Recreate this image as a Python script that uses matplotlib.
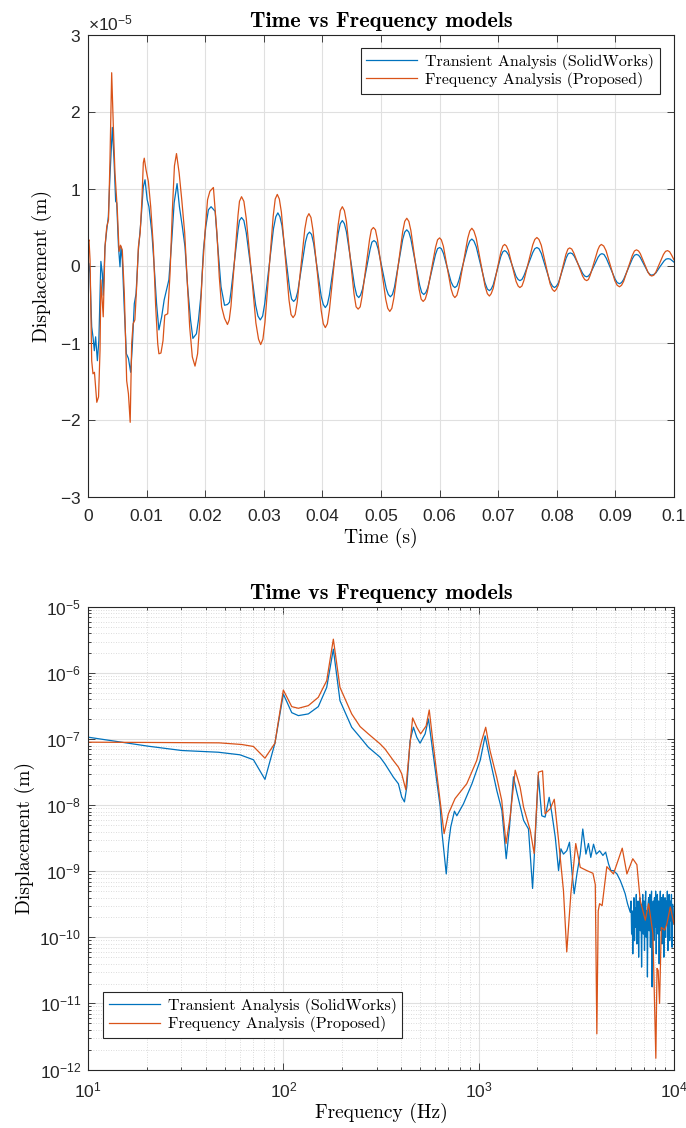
import numpy as np
import matplotlib
matplotlib.use("Agg")
import matplotlib.pyplot as plt
from matplotlib.ticker import ScalarFormatter, LogLocator, MultipleLocator, NullFormatter

# ---------------- data: time domain (t in ms, displacement in 1e-5 m) ----------------
t_transient_ms = [0.0, 0.17, 0.34, 0.63, 0.85, 1.08, 1.3, 1.6, 1.85, 2.05, 2.2, 2.45, 2.6, 2.9, 3.2, 3.47,
                  3.75, 4.15, 4.44, 4.72, 4.9, 5.2, 5.46, 5.63, 5.86, 6.2, 6.55, 6.9, 7.28, 7.56, 7.9, 8.2,
                  8.6, 9.05, 9.44, 9.73, 10.1, 10.4, 10.9, 11.3, 11.7, 12.1, 12.57, 13.0, 13.4, 13.8, 14.3,
                  14.7, 15.2, 15.6, 16.1, 16.55, 17.0, 17.5, 17.9, 18.5, 18.85, 19.3, 19.7, 20.1, 20.55,
                  21.0, 21.7, 22.1, 22.7, 23.3,
                  23.8, 24.4, 25.0, 25.6, 26.2, 27.0, 27.8, 28.6, 29.4, 30.15, 30.9, 31.65, 32.4, 33.1,
                  33.75, 34.4, 35.1, 35.8, 36.45, 37.1, 37.8, 38.5, 39.15, 39.8, 40.5, 41.2, 41.95, 42.7,
                  43.4, 44.1, 44.8, 45.5, 46.2, 46.85, 47.5, 48.15, 48.8, 49.5, 50.2, 50.9, 51.6, 52.3,
                  53.0, 53.7, 54.4, 55.1, 55.85, 56.6, 57.3, 58.0, 58.65, 59.3, 60.0, 60.65, 61.3, 61.95,
                  62.6, 63.3, 64.05, 64.8, 65.5, 66.25, 67.0, 67.75, 68.5, 69.15, 69.8, 70.45, 71.1, 71.75,
                  72.4, 73.05, 73.7, 74.4, 75.15, 75.9, 76.6, 77.35, 78.1, 78.85, 79.6, 80.3, 80.95, 81.6,
                  82.3, 83.0, 83.7, 84.4, 85.1, 85.75, 86.4, 87.05, 87.7, 88.45, 89.2, 89.95, 90.7, 91.4,
                  92.15, 92.9, 93.6, 94.25, 94.9, 95.55, 96.2, 96.9, 97.6, 98.3, 99.0, 99.6, 100.0]
d_transient_e5 = [0.05, 0.03, -0.10, -0.79, -0.92, -1.10, -0.92, -1.23, -0.97, -0.36, 0.06, -0.10, -0.38, 0.25, 0.47, 0.64,
                  1.17, 1.80, 1.38, 0.84, 0.82, 0.25, -0.01, 0.25, 0.08, -0.57, -1.14, -1.20, -1.38, -1.05, -0.49, -0.36,
                  0.21, 0.60, 1.03, 1.12, 0.86, 0.77, 0.43, -0.01, -0.49, -0.83, -0.66, -0.44, -0.31, -0.18, 0.34,
                  0.82, 1.07, 0.77, 0.51, 0.25, -0.27, -0.70, -0.94, -0.88, -0.70, -0.36, 0.21, 0.51, 0.73,
                  0.77, 0.71, 0.30, -0.27, -0.51,
                  -0.50, -0.335, 0.065, 0.465, 0.63, 0.435, -0.035, -0.505, -0.70, -0.495, -0.005, 0.485, 0.69, 0.525,
                  0.115, -0.295, -0.46, -0.33, -0.01, 0.31, 0.44, 0.295, -0.05, -0.395, -0.54, -0.375, 0.025, 0.425,
                  0.59, 0.445, 0.09, -0.265, -0.41, -0.30, -0.04, 0.22, 0.33, 0.225, -0.035, -0.295, -0.40, -0.275,
                  0.035, 0.345, 0.47, 0.35, 0.05, -0.25, -0.37, -0.28, -0.065, 0.15, 0.24, 0.165, -0.02, -0.205,
                  -0.28, -0.185, 0.035, 0.255, 0.35, 0.25, 0.015, -0.22, -0.32, -0.245, -0.06, 0.125, 0.20, 0.145,
                  0.005, -0.135, -0.19, -0.125, 0.025, 0.175, 0.24, 0.165, -0.02, -0.205, -0.28, -0.215, -0.055, 0.105,
                  0.17, 0.125, 0.015, -0.095, -0.14, -0.095, 0.01, 0.115, 0.16, 0.10, -0.035, -0.17, -0.23, -0.175,
                  -0.04, 0.095, 0.15, 0.11, 0.015, -0.08, -0.12, -0.09, -0.01, 0.065, 0.095, 0.075, 0.05]
# extra readings near the crests / troughs of the transient curve
t_transient_crest_ms = [24.15, 25.85, 26.6, 29.0, 29.8, 32.05, 32.75, 34.75, 35.45, 37.45, 38.15, 40.15, 40.85,
                        43.05, 43.75, 45.85, 46.5, 48.45, 49.15, 51.25, 51.95, 54.05, 54.75, 56.95, 57.65,
                        59.65, 60.3, 62.3, 62.95, 65.15, 65.85, 68.15, 68.8, 70.8, 71.4, 73.4, 74.05, 76.25,
                        76.95, 79.25, 79.95, 81.95, 82.65, 84.75, 85.4, 87.4, 88.05, 90.3, 91.05, 93.25, 93.95,
                        95.9, 96.55, 98.65, 99.35]
d_transient_crest_e5 = [-0.47, 0.59, 0.59, -0.65, -0.65, 0.64, 0.64, -0.43, -0.43, 0.41, 0.41, -0.50, -0.50,
                        0.55, 0.55, -0.38, -0.38, 0.31, 0.31, -0.37, -0.37, 0.44, 0.44, -0.345, -0.345,
                        0.225, 0.225, -0.26, -0.26, 0.325, 0.325, -0.30, -0.30, 0.185, 0.185, -0.175, -0.175, 0.225,
                        0.225, -0.26, -0.26, 0.16, 0.16, -0.13, -0.13, 0.15, 0.15, -0.215, -0.215, 0.14, 0.14,
                        -0.11, -0.11, 0.09, 0.09]

t_frequency_ms = [0.0, 0.17, 0.35, 0.63, 0.85, 1.1, 1.5, 1.8, 2.05, 2.2, 2.6, 2.9, 3.2, 3.5, 3.75, 4.04,
                  4.32, 4.6, 5.0, 5.3, 5.55, 5.85, 6.2, 6.6, 6.9, 7.2, 7.45, 7.7, 8.0, 8.3, 8.6, 8.9,
                  9.2, 9.44, 9.6, 9.9, 10.3, 10.7, 11.15, 11.55, 11.9, 12.1, 12.45, 12.8, 13.1, 13.6, 14.0,
                  14.4, 14.75, 15.1, 15.55, 16.0, 16.5, 16.9, 17.35, 17.8, 18.26, 18.7, 19.1, 19.5, 20.0,
                  20.4, 20.8, 21.4, 22.0, 22.4, 22.8, 23.3,
                  23.8, 24.4, 25.0, 25.6, 26.2, 27.0, 27.85, 28.65, 29.47, 30.2, 30.9, 31.6, 32.3, 33.0,
                  33.65, 34.3, 35.0, 35.7, 36.35, 37.0, 37.7, 38.4, 39.1, 39.8, 40.5, 41.2, 41.95, 42.7,
                  43.4, 44.1, 44.75, 45.4, 46.1, 46.75, 47.4, 48.05, 48.7, 49.4, 50.1, 50.8, 51.5, 52.2,
                  52.95, 53.7, 54.4, 55.1, 55.8, 56.5, 57.2, 57.9, 58.6, 59.3, 60.0, 60.65, 61.3, 61.95,
                  62.6, 63.3, 64.05, 64.8, 65.5, 66.25, 67.0, 67.75, 68.5, 69.15, 69.8, 70.45, 71.1, 71.75,
                  72.4, 73.05, 73.7, 74.4, 75.15, 75.9, 76.6, 77.35, 78.1, 78.85, 79.6, 80.25, 80.9, 81.55,
                  82.2, 82.9, 83.65, 84.4, 85.1, 85.7, 86.35, 87.0, 87.6, 88.4, 89.15, 89.9, 90.7, 91.4,
                  92.15, 92.9, 93.6, 94.25, 94.9, 95.55, 96.2, 96.9, 97.55, 98.2, 98.9, 99.6, 100.0]
d_frequency_e5 = [0.30, 0.34, 0.08, -1.23, -1.40, -1.38, -1.77, -1.70, -1.10, -0.18, -0.66, 0.25, 0.51, 0.60, 1.38, 2.51,
                  1.82, 1.21, 0.73, 0.19, 0.27, 0.21, -0.36, -1.49, -1.66, -2.03, -1.01, -0.75, -0.70, -0.27, 0.25, 0.43,
                  0.86, 1.34, 1.40, 1.25, 1.10, 0.77, 0.25, -0.53, -1.01, -1.14, -1.13, -0.97, -0.64, -0.62, -0.10,
                  0.73, 1.30, 1.46, 1.21, 0.86, 0.43, -0.14, -0.79, -1.18, -1.30, -1.14, -0.70, -0.10, 0.47,
                  0.86, 0.97, 1.02, 0.43, -0.14, -0.53, -0.68,
                  -0.76, -0.52, 0.07, 0.66, 0.90, 0.62, -0.06, -0.74, -1.02, -0.73, -0.045, 0.645, 0.93, 0.70,
                  0.13, -0.44, -0.67, -0.47, 0.0, 0.48, 0.68, 0.46, -0.06, -0.58, -0.80, -0.57, -0.015, 0.54,
                  0.77, 0.575, 0.105, -0.365, -0.56, -0.405, -0.03, 0.345, 0.50, 0.34, -0.045, -0.43, -0.59, -0.415,
                  0.015, 0.445, 0.62, 0.46, 0.08, -0.30, -0.46, -0.34, -0.05, 0.24, 0.365, 0.255, -0.02, -0.295,
                  -0.41, -0.28, 0.04, 0.36, 0.49, 0.36, 0.05, -0.26, -0.39, -0.29, -0.055, 0.18, 0.28, 0.20,
                  0.0, -0.20, -0.28, -0.185, 0.045, 0.275, 0.37, 0.27, 0.02, -0.23, -0.33, -0.25, -0.05, 0.15,
                  0.235, 0.17, 0.02, -0.13, -0.19, -0.12, 0.045, 0.21, 0.28, 0.20, 0.005, -0.19, -0.27, -0.20,
                  -0.03, 0.14, 0.21, 0.16, 0.04, -0.08, -0.13, -0.08, 0.035, 0.15, 0.20, 0.14, 0.08]
# extra readings near the crests / troughs of the frequency-model curve
t_frequency_crest_ms = [24.1, 25.85, 26.6, 29.1, 29.85, 31.95, 32.65, 34.65, 35.35, 37.35, 38.05, 40.15, 40.85,
                        43.05, 43.75, 45.75, 46.45, 48.35, 49.05, 51.15, 51.85, 54.05, 54.75, 56.85, 57.55,
                        59.65, 60.3, 62.3, 62.95, 65.15, 65.85, 68.15, 68.8, 70.8, 71.4, 73.4, 74.05, 76.25,
                        76.95, 79.25, 79.9, 81.9, 82.55, 84.75, 85.4, 87.3, 88.0, 90.3, 91.05, 93.25, 93.95,
                        95.9, 96.55, 98.55, 99.25]
d_frequency_crest_e5 = [-0.70, 0.84, 0.84, -0.95, -0.95, 0.87, 0.87, -0.63, -0.63, 0.63, 0.63, -0.75, -0.75,
                        0.72, 0.72, -0.53, -0.53, 0.47, 0.47, -0.55, -0.55, 0.58, 0.58, -0.43, -0.43,
                        0.34, 0.34, -0.38, -0.38, 0.455, 0.455, -0.36, -0.36, 0.26, 0.26, -0.26, -0.26, 0.345,
                        0.345, -0.305, -0.305, 0.22, 0.22, -0.175, -0.175, 0.26, 0.26, -0.25, -0.25, 0.195, 0.195,
                        -0.12, -0.12, 0.19, 0.185]

# ---------------- data: frequency domain (log10 Hz, log10 m) ----------------
logf_transient = [1.0, 1.309, 1.48, 1.667, 1.778, 1.847, 1.906, 1.957, 2.0, 2.043, 2.077, 2.128, 2.179, 2.222,
                  2.256, 2.29, 2.35, 2.393, 2.435, 2.495, 2.52, 2.563, 2.589, 2.606, 2.620, 2.632, 2.649, 2.666,
                  2.683, 2.70, 2.726, 2.743, 2.76, 2.803, 2.811, 2.834, 2.846, 2.857, 2.876, 2.888, 2.922, 2.965,
                  3.008, 3.033, 3.059, 3.093, 3.119, 3.141, 3.158, 3.178, 3.195, 3.23, 3.255, 3.276, 3.289, 3.305,
                  3.323, 3.34, 3.361, 3.375, 3.392, 3.409, 3.421, 3.434, 3.451, 3.465, 3.477, 3.489, 3.503, 3.52,
                  3.533, 3.549, 3.562, 3.574, 3.588, 3.602, 3.619, 3.636, 3.65, 3.665, 3.677, 3.69, 3.708, 3.725,
                  3.738, 3.75, 3.762, 3.776,
                  3.780, 3.783, 3.786, 3.789, 3.792, 3.795, 3.798, 3.801, 3.804, 3.807, 3.810, 3.813, 3.816, 3.819,
                  3.822, 3.825, 3.828, 3.831, 3.834, 3.837, 3.840, 3.843, 3.846, 3.849, 3.852, 3.855, 3.858, 3.861,
                  3.864, 3.867, 3.870, 3.873, 3.876, 3.879, 3.882, 3.885, 3.888, 3.891, 3.894, 3.897, 3.900, 3.903,
                  3.906, 3.909, 3.912, 3.915, 3.918, 3.921, 3.924, 3.927, 3.930, 3.933, 3.936, 3.939, 3.942, 3.945,
                  3.948, 3.951, 3.954, 3.957, 3.960, 3.963, 3.966, 3.969, 3.972, 3.975, 3.978, 3.981, 3.984, 3.987,
                  3.990, 3.993, 3.996, 4.000]
logd_transient = [-6.97, -7.107, -7.172, -7.198, -7.237, -7.312, -7.609, -7.061, -6.317, -6.599, -6.644, -6.618, -6.508, -6.217,
                  -5.638, -6.418, -6.82, -6.971, -7.122, -7.273, -7.373, -7.574, -7.675, -7.875, -7.95, -7.725, -7.02, -6.82,
                  -6.971, -7.061, -6.92, -6.694, -7.071, -8.025, -8.38, -9.04, -8.58, -8.33, -8.09, -8.16, -7.98, -7.68,
                  -7.32, -6.95, -7.32, -7.78, -8.08, -8.81, -8.33, -7.57, -7.80, -8.23, -8.36, -9.26, -8.53, -7.55,
                  -8.16, -8.18, -7.88, -8.13, -8.48, -8.99, -8.66, -8.74, -8.69, -8.56, -8.99, -9.34, -9.04, -8.74,
                  -8.36, -8.74, -8.58, -8.79, -8.59, -8.74, -8.69, -8.76, -8.71, -8.89, -8.99, -8.99, -9.04, -9.14,
                  -9.24, -9.34, -9.49, -9.62,
                  -9.45, -9.95, -9.60, -10.25, -9.70, -9.40, -10.05, -9.55, -9.85, -9.35, -10.10, -9.60, -9.45, -10.30,
                  -9.70, -9.40, -9.90, -9.50, -10.45, -9.65, -9.35, -9.95, -9.45, -10.20, -9.55, -9.30, -10.00, -9.60,
                  -10.60, -9.50, -9.40, -9.90, -9.35, -10.15, -9.55, -9.30, -10.75, -9.60, -9.45, -10.05, -9.40, -9.85,
                  -9.30, -10.25, -9.50, -9.35, -9.95, -9.45, -10.40, -9.55, -9.30, -9.90, -9.40, -10.10, -9.50, -9.35,
                  -10.30, -9.60, -9.40, -10.00, -9.45, -9.80, -9.30, -10.20, -9.55, -9.35, -10.05, -9.45, -9.75, -9.35,
                  -10.15, -9.50, -9.65, -9.80]

logf_frequency = [1.0, 1.3, 1.671, 1.787, 1.847, 1.906, 1.957, 2.0, 2.043, 2.077, 2.128, 2.179, 2.222, 2.256,
                  2.29, 2.35, 2.393, 2.435, 2.495, 2.52, 2.563, 2.589, 2.606, 2.627, 2.645, 2.662, 2.683, 2.703,
                  2.731, 2.747, 2.765, 2.794, 2.823, 2.845, 2.879, 2.939, 2.99, 3.016, 3.036, 3.058, 3.092, 3.118,
                  3.14, 3.161, 3.187, 3.212, 3.23, 3.264, 3.284, 3.306, 3.327, 3.34, 3.366, 3.387, 3.409, 3.434,
                  3.451, 3.472, 3.497, 3.52, 3.554, 3.585, 3.597, 3.605, 3.612, 3.619, 3.632, 3.656, 3.69, 3.712,
                  3.735, 3.759, 3.789, 3.81, 3.827, 3.853, 3.87, 3.892, 3.907, 3.913, 3.919, 3.926, 3.935, 3.952,
                  3.964, 3.981, 4.0]
logd_frequency = [-7.046, -7.05, -7.056, -7.081, -7.111, -7.288, -7.061, -6.257, -6.508, -6.533, -6.493, -6.367, -6.116, -5.487,
                  -6.217, -6.618, -6.81, -6.92, -7.071, -7.147, -7.323, -7.423, -7.524, -7.765, -7.172, -6.679, -6.82, -6.92,
                  -6.80, -6.558, -7.02, -7.725, -8.43, -8.13, -7.90, -7.675, -7.323, -7.02, -6.82, -7.172, -7.574, -7.926,
                  -8.58, -8.18, -7.47, -7.725, -8.03, -8.38, -8.73, -7.50, -7.48, -8.13, -8.055, -7.91, -8.53, -9.29,
                  -10.22, -9.34, -8.58, -8.94, -8.99, -9.03, -9.20, -11.46, -9.60, -9.49, -9.52, -8.93, -9.04, -8.85,
                  -8.65, -9.04, -8.81, -8.90, -9.44, -9.74, -9.49, -9.94, -11.83, -10.47, -10.50, -11.0, -9.85, -9.89,
                  -9.79, -9.54, -9.80]

series_labels = ["Transient Analysis (SolidWorks)", "Frequency Analysis (Proposed)"]
series_colors = ["#0072BD", "#D95319"]
x_tick_labels_time = ["0", "0.01", "0.02", "0.03", "0.04", "0.05", "0.06", "0.07", "0.08", "0.09", "0.1"]

# ---------------- style ----------------
plt.rcParams["axes.unicode_minus"] = False
plt.rcParams["mathtext.fontset"] = "custom"
plt.rcParams["mathtext.rm"] = "Liberation Sans"
plt.rcParams["mathtext.it"] = "Liberation Sans:italic"
plt.rcParams["mathtext.bf"] = "Liberation Sans:bold"
plt.rcParams["font.family"] = ["Liberation Sans", "DejaVu Sans"]

TICK_FS = 12.5
LABEL_FS = 14
TITLE_FS = 16
LEG_FS = 11.5
AX_COL = "#262626"
SERIF = "cmr10"
SERIF_B = "cmb10"

fig = plt.figure(figsize=(6.86, 11.28), dpi=100)
ax1 = fig.add_axes([88/686, 1-497/1128, 586/686, 462/1128])
ax2 = fig.add_axes([88/686, 1-1069.5/1128, 586/686, 462.5/1128])


def style_axes(ax, xpad):
    for s in ax.spines.values():
        s.set_color(AX_COL)
        s.set_linewidth(0.8)
    ax.tick_params(which="both", direction="in", top=True, right=True, colors=AX_COL,
                   labelcolor=AX_COL, labelsize=TICK_FS, width=0.6)
    ax.tick_params(which="major", length=5)
    ax.tick_params(which="minor", length=2.5)
    ax.tick_params(axis="x", which="both", pad=xpad)
    ax.tick_params(axis="y", which="both", pad=5)
    ax.set_axisbelow(True)


def merged(t_main, d_main, t_extra, d_extra):
    t = np.concatenate([t_main, t_extra])
    d = np.concatenate([d_main, d_extra])
    order = np.argsort(t, kind="stable")
    return t[order], d[order]


# ---- top: time domain ----
tb, db = merged(t_transient_ms, d_transient_e5, t_transient_crest_ms, d_transient_crest_e5)
to, do = merged(t_frequency_ms, d_frequency_e5, t_frequency_crest_ms, d_frequency_crest_e5)
ax1.plot(tb / 1000.0, db * 1e-5, color=series_colors[0], lw=0.9, label=series_labels[0])
ax1.plot(to / 1000.0, do * 1e-5, color=series_colors[1], lw=0.9, label=series_labels[1])
ax1.set_xlim(0, 0.1)
ax1.set_ylim(-3e-5, 3e-5)
ax1.yaxis.set_major_locator(MultipleLocator(1e-5))
fmt = ScalarFormatter(useMathText=True)
fmt.set_powerlimits((0, 0))
ax1.yaxis.set_major_formatter(fmt)
ax1.set_xticks([i * 0.01 for i in range(len(x_tick_labels_time))])
ax1.set_xticklabels(x_tick_labels_time)
ax1.grid(True, which="major", color="#e0e0e0", lw=0.8)
style_axes(ax1, 8.5)
ax1.yaxis.get_offset_text().set_fontsize(TICK_FS)
ax1.yaxis.get_offset_text().set_color(AX_COL)
ax1.set_title("Time vs Frequency models", fontfamily=SERIF_B, fontsize=TITLE_FS, pad=6)
ax1.set_xlabel("Time (s)", fontfamily=SERIF, fontsize=LABEL_FS, labelpad=3)
ax1.set_ylabel("Displacement (m)", fontfamily=SERIF, fontsize=LABEL_FS, labelpad=6)
leg1 = ax1.legend(loc="upper right", bbox_to_anchor=(0.976, 0.972), borderaxespad=0,
                  prop={"family": SERIF, "size": LEG_FS}, fancybox=False, framealpha=1,
                  edgecolor=AX_COL, handlelength=3.2, handletextpad=0.5, borderpad=0.35,
                  labelspacing=0.15)
leg1.get_frame().set_linewidth(0.8)

# ---- bottom: frequency domain ----
f1 = 10 ** np.array(logf_transient)
f2 = 10 ** np.array(logf_frequency)
ax2.loglog(f1, 10 ** np.array(logd_transient), color=series_colors[0], lw=0.9, label=series_labels[0])
ax2.loglog(f2, 10 ** np.array(logd_frequency), color=series_colors[1], lw=0.9, label=series_labels[1])
ax2.set_xlim(10, 1e4)
ax2.set_ylim(1e-12, 1e-5)
ax2.xaxis.set_major_locator(LogLocator(base=10, numticks=10))
ax2.yaxis.set_major_locator(LogLocator(base=10, numticks=20))
ax2.xaxis.set_minor_locator(LogLocator(base=10, subs=np.arange(2, 10), numticks=50))
ax2.yaxis.set_minor_locator(LogLocator(base=10, subs=np.arange(2, 10), numticks=50))
ax2.xaxis.set_minor_formatter(NullFormatter())
ax2.yaxis.set_minor_formatter(NullFormatter())
ax2.grid(True, which="major", color="#e0e0e0", lw=0.8)
ax2.grid(True, which="minor", color="#d0d0d0", lw=0.6, linestyle=(0, (1, 2)))
style_axes(ax2, 8)
ax2.set_title("Time vs Frequency models", fontfamily=SERIF_B, fontsize=TITLE_FS, pad=6)
ax2.set_xlabel("Frequency (Hz)", fontfamily=SERIF, fontsize=LABEL_FS, labelpad=2)
ax2.set_ylabel("Displacement (m)", fontfamily=SERIF, fontsize=LABEL_FS, labelpad=3)
leg2 = ax2.legend(loc="lower left", bbox_to_anchor=(0.0256, 0.068), borderaxespad=0,
                  prop={"family": SERIF, "size": LEG_FS}, fancybox=False, framealpha=1,
                  edgecolor=AX_COL, handlelength=3.2, handletextpad=0.5, borderpad=0.35,
                  labelspacing=0.15)
leg2.get_frame().set_linewidth(0.8)

fig.savefig("out.png", dpi=100)
